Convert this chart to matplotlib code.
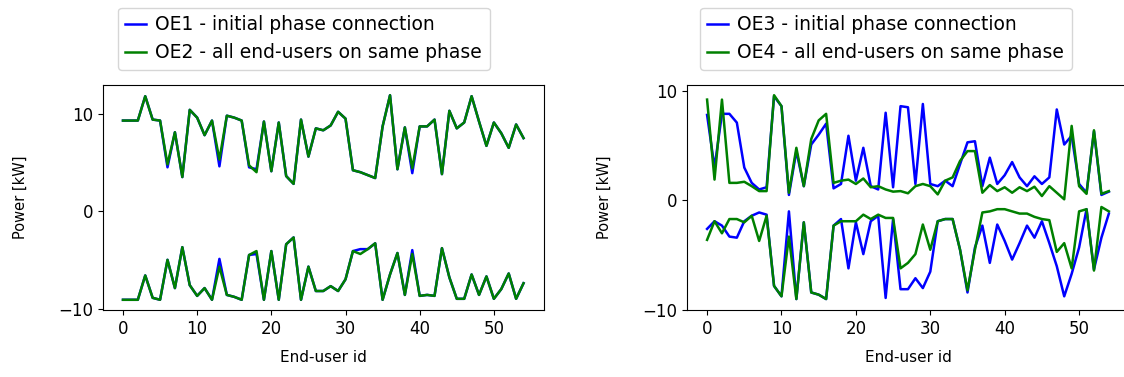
import numpy as np
import matplotlib
matplotlib.use("Agg")
import matplotlib.pyplot as plt

user_id = np.arange(55)

# left panel: OE1 (initial phase) / OE2 (all on same phase), upper + lower envelopes
oe1_upper = [9.3, 9.3, 9.3, 11.8, 9.4, 9.3, 4.5, 8.1, 3.5, 10.4,
             9.6, 7.8, 9.3, 4.6, 9.8, 9.6, 9.3, 4.5, 4.3, 9.2,
             4.1, 9.1, 3.6, 2.8, 9.4, 5.6, 8.5, 8.3, 8.8, 10.2,
             9.5, 4.2, 4.0, 3.7, 3.4, 8.7, 11.9, 4.3, 8.6, 3.9,
             8.7, 8.7, 9.4, 3.8, 10.3, 8.5, 9.1, 11.8, 9.2, 6.7,
             9.1, 8.0, 6.5, 8.9, 7.5]
oe2_upper = [9.3, 9.3, 9.3, 11.8, 9.4, 9.3, 4.8, 8.1, 3.5, 10.4,
             9.6, 7.8, 9.3, 5.3, 9.8, 9.6, 9.3, 4.7, 4.0, 9.2,
             4.1, 9.1, 3.6, 2.8, 9.4, 5.6, 8.5, 8.3, 8.8, 10.2,
             9.5, 4.2, 4.0, 3.7, 3.4, 8.7, 11.9, 4.3, 8.6, 4.4,
             8.7, 8.7, 9.4, 3.8, 10.3, 8.5, 9.1, 11.8, 9.2, 6.7,
             9.1, 8.0, 6.5, 8.9, 7.5]
oe1_lower = [-9.1, -9.1, -9.1, -6.6, -8.9, -9.1, -5.0, -7.9, -3.7, -7.6,
             -8.7, -7.9, -9.1, -4.9, -8.6, -8.8, -9.1, -4.5, -4.4, -9.1,
             -4.1, -9.1, -3.4, -2.7, -9.1, -5.7, -8.2, -8.2, -7.7, -8.2,
             -7.0, -4.1, -3.9, -3.9, -3.3, -9.1, -6.5, -4.3, -8.6, -4.0,
             -8.7, -8.6, -8.7, -3.8, -6.8, -9.0, -9.0, -6.5, -8.6, -6.7,
             -9.0, -8.0, -6.4, -9.0, -7.4]
oe2_lower = [-9.1, -9.1, -9.1, -6.6, -8.9, -9.1, -5.0, -7.9, -3.7, -7.6,
             -8.7, -7.9, -9.1, -5.7, -8.6, -8.8, -9.1, -4.5, -4.1, -9.1,
             -4.1, -9.1, -3.4, -2.7, -9.1, -5.7, -8.2, -8.2, -7.7, -8.2,
             -7.0, -4.1, -4.4, -3.9, -3.3, -9.1, -6.5, -4.3, -8.6, -4.4,
             -8.7, -8.6, -8.7, -3.8, -6.8, -9.0, -9.0, -6.5, -8.6, -6.7,
             -9.0, -8.0, -6.4, -9.0, -7.4]

# right panel: OE3 / OE4
oe3_upper = [7.8, 3.0, 7.9, 7.9, 7.1, 3.0, 1.6, 1.0, 1.2, 9.5,
             8.6, 0.5, 4.5, 1.3, 5.1, 6.0, 7.0, 1.1, 1.5, 5.9,
             1.8, 4.8, 1.3, 1.0, 8.0, 1.2, 8.6, 8.5, 1.5, 8.8,
             1.5, 1.3, 1.8, 1.3, 3.3, 5.3, 5.4, 1.3, 3.9, 1.5,
             2.3, 3.5, 2.1, 1.3, 2.2, 1.5, 2.1, 8.3, 5.1, 5.9,
             1.5, 0.7, 6.3, 0.5, 0.8]
oe4_upper = [9.2, 1.9, 9.2, 1.6, 1.6, 1.7, 1.3, 0.85, 0.85, 9.6,
             8.6, 0.7, 4.8, 1.3, 5.6, 7.3, 7.9, 1.6, 1.8, 1.9,
             1.5, 2.0, 1.2, 1.3, 1.0, 0.8, 0.85, 0.65, 1.3, 1.5,
             1.3, 0.55, 1.8, 2.1, 3.6, 4.5, 4.5, 0.7, 1.4, 0.85,
             1.2, 0.7, 1.2, 0.85, 1.25, 0.4, 1.3, 0.7, 0.1, 6.8,
             1.3, 0.6, 6.4, 0.6, 0.85]
oe3_lower = [-2.6, -1.9, -2.3, -3.3, -3.4, -1.9, -1.4, -1.1, -1.3, -7.8,
             -8.75, -1.0, -9.0, -2.0, -8.4, -8.6, -9.0, -2.3, -1.7, -6.2,
             -2.0, -4.9, -1.9, -1.4, -8.9, -1.7, -8.1, -8.1, -7.1, -8.0,
             -6.5, -1.9, -1.7, -1.7, -4.5, -8.4, -4.3, -2.3, -5.7, -2.2,
             -3.7, -5.4, -3.9, -2.3, -3.4, -1.9, -3.9, -6.0, -8.75, -6.7,
             -4.3, -0.8, -6.3, -3.4, -1.2]
oe4_lower = [-3.6, -1.9, -3.0, -1.7, -1.7, -2.0, -1.4, -3.7, -1.4, -7.8,
             -8.75, -3.3, -9.0, -2.0, -8.4, -8.6, -9.0, -2.3, -1.9, -1.9,
             -1.9, -1.3, -1.7, -1.3, -1.6, -1.6, -6.2, -5.7, -4.9, -2.2,
             -4.5, -1.9, -1.7, -1.7, -4.5, -8.2, -4.5, -1.1, -1.0, -0.8,
             -0.8, -1.0, -1.2, -1.2, -1.5, -1.7, -1.8, -4.7, -3.9, -6.2,
             -1.0, -0.8, -6.4, -0.6, -1.0]

fig = plt.figure(figsize=(11.24, 3.77), dpi=100)
ax1 = fig.add_axes([0.0916, 0.1777, 0.392, 0.5968])
ax2 = fig.add_axes([0.6112, 0.1777, 0.3932, 0.5968])

lw = 1.8

ax1.plot(user_id, oe1_upper, color='blue', lw=lw, label='OE1 - initial phase connection')
ax1.plot(user_id, oe1_lower, color='blue', lw=lw)
ax1.plot(user_id, oe2_upper, color='green', lw=lw, label='OE2 - all end-users on same phase')
ax1.plot(user_id, oe2_lower, color='green', lw=lw)

ax2.plot(user_id, oe3_upper, color='blue', lw=lw, label='OE3 - initial phase connection')
ax2.plot(user_id, oe3_lower, color='blue', lw=lw)
ax2.plot(user_id, oe4_upper, color='green', lw=lw, label='OE4 - all end-users on same phase')
ax2.plot(user_id, oe4_lower, color='green', lw=lw)

for ax, anchor in [(ax1, (0.034, 1.067)), (ax2, (0.029, 1.067))]:
    ax.set_yticks([-10, 0, 10])
    ax.set_xticks([0, 10, 20, 30, 40, 50])
    ax.tick_params(labelsize=12)
    ax.set_xlabel('End-user id', fontsize=11, labelpad=9)
    ax.set_ylabel('Power [kW]', fontsize=10.5, labelpad=22)
    ax.legend(loc='lower left', bbox_to_anchor=anchor, fontsize=13.5,
              handlelength=1.1, handletextpad=0.5, borderaxespad=0)

fig.savefig('out.png', dpi=100)
